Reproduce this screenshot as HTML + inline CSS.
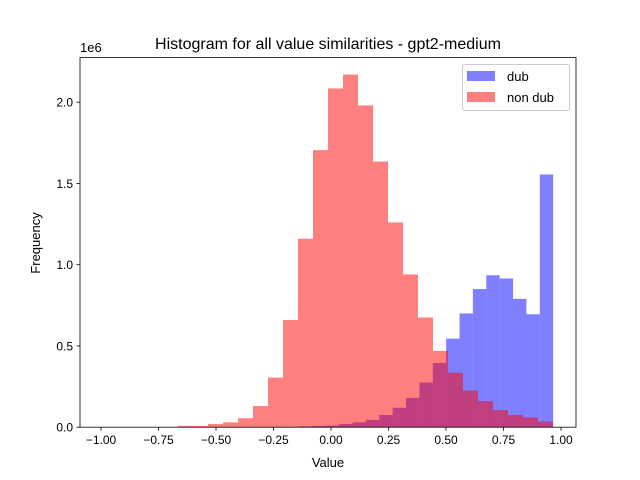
<!DOCTYPE html>
<html><head><meta charset="utf-8"><style>
body{margin:0;background:#fff;}
svg{display:block;font-family:"Liberation Sans","DejaVu Sans",sans-serif;}
</style></head><body>
<svg id="chart" width="640" height="480" viewBox="0 0 640 480" xmlns="http://www.w3.org/2000/svg">
<rect width="640" height="480" fill="#fff"/>
<text x="328" y="49" font-size="16" text-anchor="middle">Histogram for all value similarities - gpt2-medium</text>
<text x="80" y="52" font-size="13">1e6</text>
<text x="328" y="467" font-size="13" text-anchor="middle">Value</text>
<text x="0" y="0" font-size="13" text-anchor="middle" transform="translate(40,243) rotate(-90)">Frequency</text>
<g id="bars-blue"></g>
<g id="bars-red"></g>
<g id="axes"></g>
<g>
<rect x="462.5" y="64.5" width="107" height="46" rx="2" fill="#fff" fill-opacity="0.8" stroke="#ccc"/>
<rect x="467" y="71" width="28" height="10" fill="rgba(0,0,255,0.5)"/>
<text x="507" y="81" font-size="13">dub</text>
<rect x="467" y="92" width="28" height="10" fill="rgba(255,0,0,0.5)"/>
<text x="507" y="102" font-size="13">non dub</text>
</g>
</svg>
<script>
const redStart = -0.665, redWidth = 0.0652;
const redCounts = [0.008,0.008,0.02,0.03,0.055,0.13,0.305,0.66,1.16,1.705,2.085,2.17,1.98,1.635,1.26,0.94,0.675,0.47,0.335,0.225,0.16,0.105,0.075,0.06,0.035];
const blueStart = -0.139, blueWidth = 0.05815;
const blueCounts = [0.005,0.008,0.01,0.02,0.03,0.045,0.075,0.12,0.18,0.275,0.395,0.545,0.70,0.85,0.935,0.915,0.79,0.695,1.555];
const xTicks = [-1.00,-0.75,-0.50,-0.25,0.00,0.25,0.50,0.75,1.00];
const xTickLabels = ["−1.00","−0.75","−0.50","−0.25","0.00","0.25","0.50","0.75","1.00"];
const yTicks = [0,0.5,1.0,1.5,2.0];
const yTickLabels = ["0.0","0.5","1.0","1.5","2.0"];

const NS="http://www.w3.org/2000/svg";
const L=80,R=576,T=57.6,B=427.2;
const xs=v=>101+(v+1)*230;
const ys=v=>B-v*162.5;
function mk(tag,attrs,parent){const e=document.createElementNS(NS,tag);for(const k in attrs)e.setAttribute(k,attrs[k]);parent.appendChild(e);return e;}
const gb=document.getElementById('bars-blue'),gr=document.getElementById('bars-red'),ga=document.getElementById('axes');
blueCounts.forEach((c,i)=>{
  const x0=xs(blueStart+i*blueWidth),x1=xs(blueStart+(i+1)*blueWidth);
  const r=mk('rect',{x:x0,y:ys(c),width:x1-x0,height:B-ys(c),fill:'rgba(0,0,255,0.5)'},gb);
  
  
});
redCounts.forEach((c,i)=>{
  const x0=xs(redStart+i*redWidth),x1=xs(redStart+(i+1)*redWidth);
  const r=mk('rect',{x:x0,y:ys(c),width:x1-x0,height:B-ys(c),fill:'rgba(255,0,0,0.5)'},gr);
  
  
});
mk('rect',{x:L,y:T,width:R-L,height:B-T,fill:'none',stroke:'#000','stroke-width':0.8},ga);
xTicks.forEach((v,i)=>{
  const x=xs(v);
  mk('line',{x1:x,x2:x,y1:B,y2:B+3.5,stroke:'#000','stroke-width':0.8},ga);
  const t=mk('text',{x:x,y:B+17,'font-size':12,'text-anchor':'middle'},ga);
  t.textContent=xTickLabels[i];
  
  
});
yTicks.forEach((v,i)=>{
  const y=ys(v);
  mk('line',{x1:L-3.5,x2:L,y1:y,y2:y,stroke:'#000','stroke-width':0.8},ga);
  const t=mk('text',{x:L-7,y:y+4.5,'font-size':12,'text-anchor':'end'},ga);
  t.textContent=yTickLabels[i];
  
  
});
</script>
</body></html>
